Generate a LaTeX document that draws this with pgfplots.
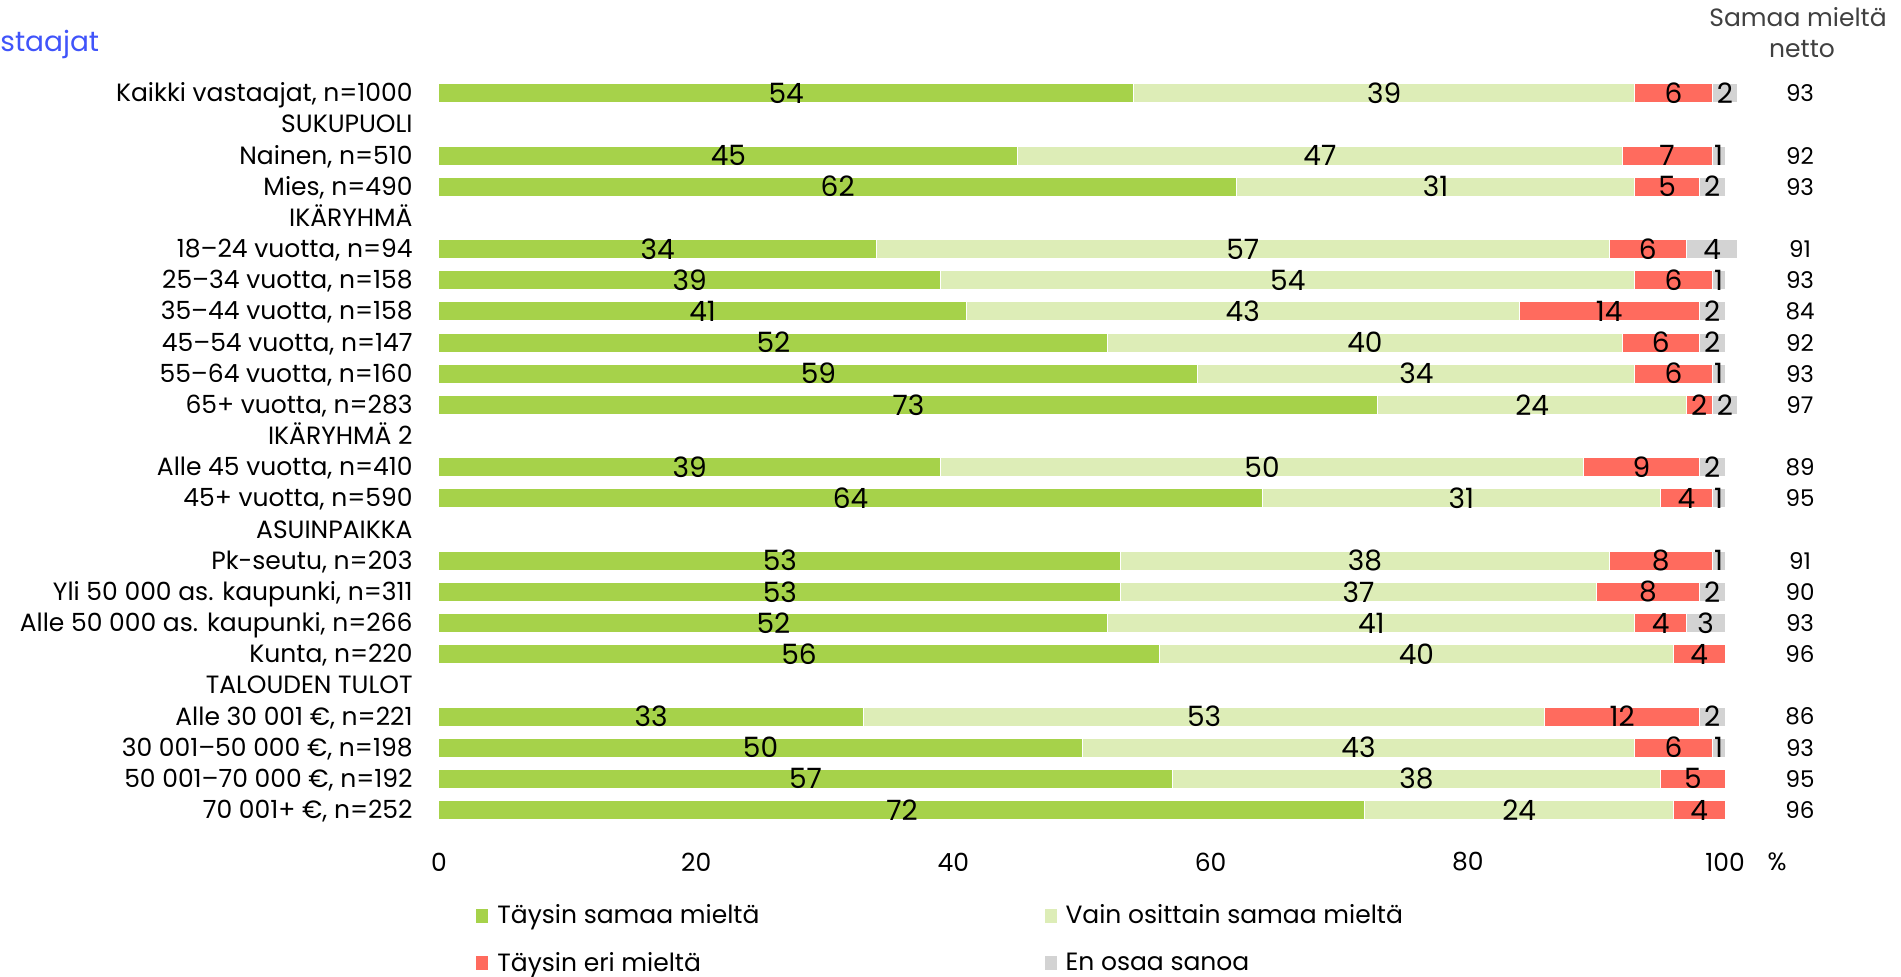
\documentclass[border=0pt]{standalone}
\usepackage{fontspec}
\setmainfont{Poppins}
\usepackage{pgfplots}
\usepackage{pgfplotstable}
\pgfplotsset{compat=1.18}

\definecolor{cTS}{RGB}{166,210,74}
\definecolor{cVO}{RGB}{221,237,183}
\definecolor{cTE}{RGB}{255,107,94}
\definecolor{cEO}{RGB}{211,211,211}
\definecolor{hdr}{RGB}{64,64,64}
\definecolor{ttl}{RGB}{64,84,250}

% row = position from top, a..d = shares in %
\pgfplotstableread{
row a  b  c  d
0   54 39 6  2
2   45 47 7  1
3   62 31 5  2
5   34 57 6  4
6   39 54 6  1
7   41 43 14 2
8   52 40 6  2
9   59 34 6  1
10  73 24 2  2
12  39 50 9  2
13  64 31 4  1
15  53 38 8  1
16  53 37 8  2
17  52 41 4  3
18  56 40 4  0
20  33 53 12 2
21  50 43 6  1
22  57 38 5  0
23  72 24 4  0
}\data

\begin{document}
\begin{tikzpicture}[font=\fontsize{12.5}{14}\selectfont]
\path[use as bounding box] (0,0) rectangle (950.5pt,-488.5pt);
\begin{axis}[
  at={(219.5pt,-412.8pt)}, anchor=south west,
  scale only axis, width=643pt, height=374pt,
  xbar stacked, bar width=9.5pt,
  xmin=0, xmax=100, ymin=-0.5, ymax=23.5, y dir=reverse,
  clip=false,
  axis line style={draw=none}, tick style={draw=none},
  /pgf/number format/assume math mode=true,
  xtick={0,20,...,100},
  xticklabel style={anchor=center, yshift=-18.2pt},
  ytick={0,...,23},
  yticklabels={{Kaikki vastaajat, n=1000}, SUKUPUOLI, {Nainen, n=510}, {Mies, n=490}, IKÄRYHMÄ,
    {18–24 vuotta, n=94}, {25–34 vuotta, n=158}, {35–44 vuotta, n=158}, {45–54 vuotta, n=147},
    {55–64 vuotta, n=160}, {65+ vuotta, n=283}, IKÄRYHMÄ 2, {Alle 45 vuotta, n=410},
    {45+ vuotta, n=590}, ASUINPAIKKA, {Pk-seutu, n=203}, {Yli 50 000 as. kaupunki, n=311},
    {Alle 50 000 as. kaupunki, n=266}, {Kunta, n=220}, TALOUDEN TULOT, {Alle 30 001 €, n=221},
    {30 001–50 000 €, n=198}, {50 001–70 000 €, n=192}, {70 001+ €, n=252}},
  yticklabel style={anchor=base east, inner sep=0pt, xshift=-13pt, yshift=-4.3pt},
  visualization depends on=rawx \as \rawx,
  nodes near coords={\ifdim\rawx pt<0.5pt\else\pgfmathprintnumber[fixed, precision=0]{\rawx}\fi},
  every node near coord/.append style={anchor=center, inner sep=0pt, text=black,
    font=\fontsize{14}{16}\selectfont},
  legend columns=2,
  legend cell align=left,
  legend image code/.code={\fill[#1] (0pt,-3.75pt) rectangle (6.5pt,3.75pt);},
  legend style={draw=none, fill=none, inner sep=0pt,
    at={(rel axis cs:0.028,-0.105)}, anchor=north west,
    nodes={inner sep=0pt},
    row sep=12.8pt,
    /tikz/every odd column/.append style={column sep=4pt},
    /tikz/every even column/.append style={column sep=142pt}},
]
\addplot[fill=cTS, draw=white, line width=0.5pt] table[x=a, y=row] {\data};
\addplot[fill=cVO, draw=white, line width=0.5pt] table[x=b, y=row] {\data};
\addplot[fill=cTE, draw=white, line width=0.5pt] table[x=c, y=row] {\data};
\addplot[fill=cEO, draw=white, line width=0.5pt] table[x=d, y=row] {\data};
\legend{Täysin samaa mieltä, Vain osittain samaa mieltä, Täysin eri mieltä, En osaa sanoa}
\end{axis}

% net agreement column
\foreach \yy/\nv in {0/93, 2/92, 3/93, 5/91, 6/93, 7/84, 8/92, 9/93, 10/97, 12/89, 13/95,
    15/91, 16/90, 17/93, 18/96, 20/86, 21/93, 22/95, 23/96}
  \node[inner sep=0pt, font=\fontsize{11.5}{13}\selectfont] at (900pt,{-46.7pt-15.58pt*\yy}) {\nv};

\node[inner sep=0pt, anchor=base, text=hdr] at (899pt,-13.5pt) {Samaa mieltä};
\node[inner sep=0pt, anchor=base, text=hdr] at (901pt,-29pt) {netto};
\node[inner sep=0pt] at (888.5pt,-431pt) {\%};
\node[inner sep=0pt, anchor=base west, text=ttl, font=\fontsize{14}{16}\selectfont] at (0pt,-26pt) {staajat};
\end{tikzpicture}
\end{document}
